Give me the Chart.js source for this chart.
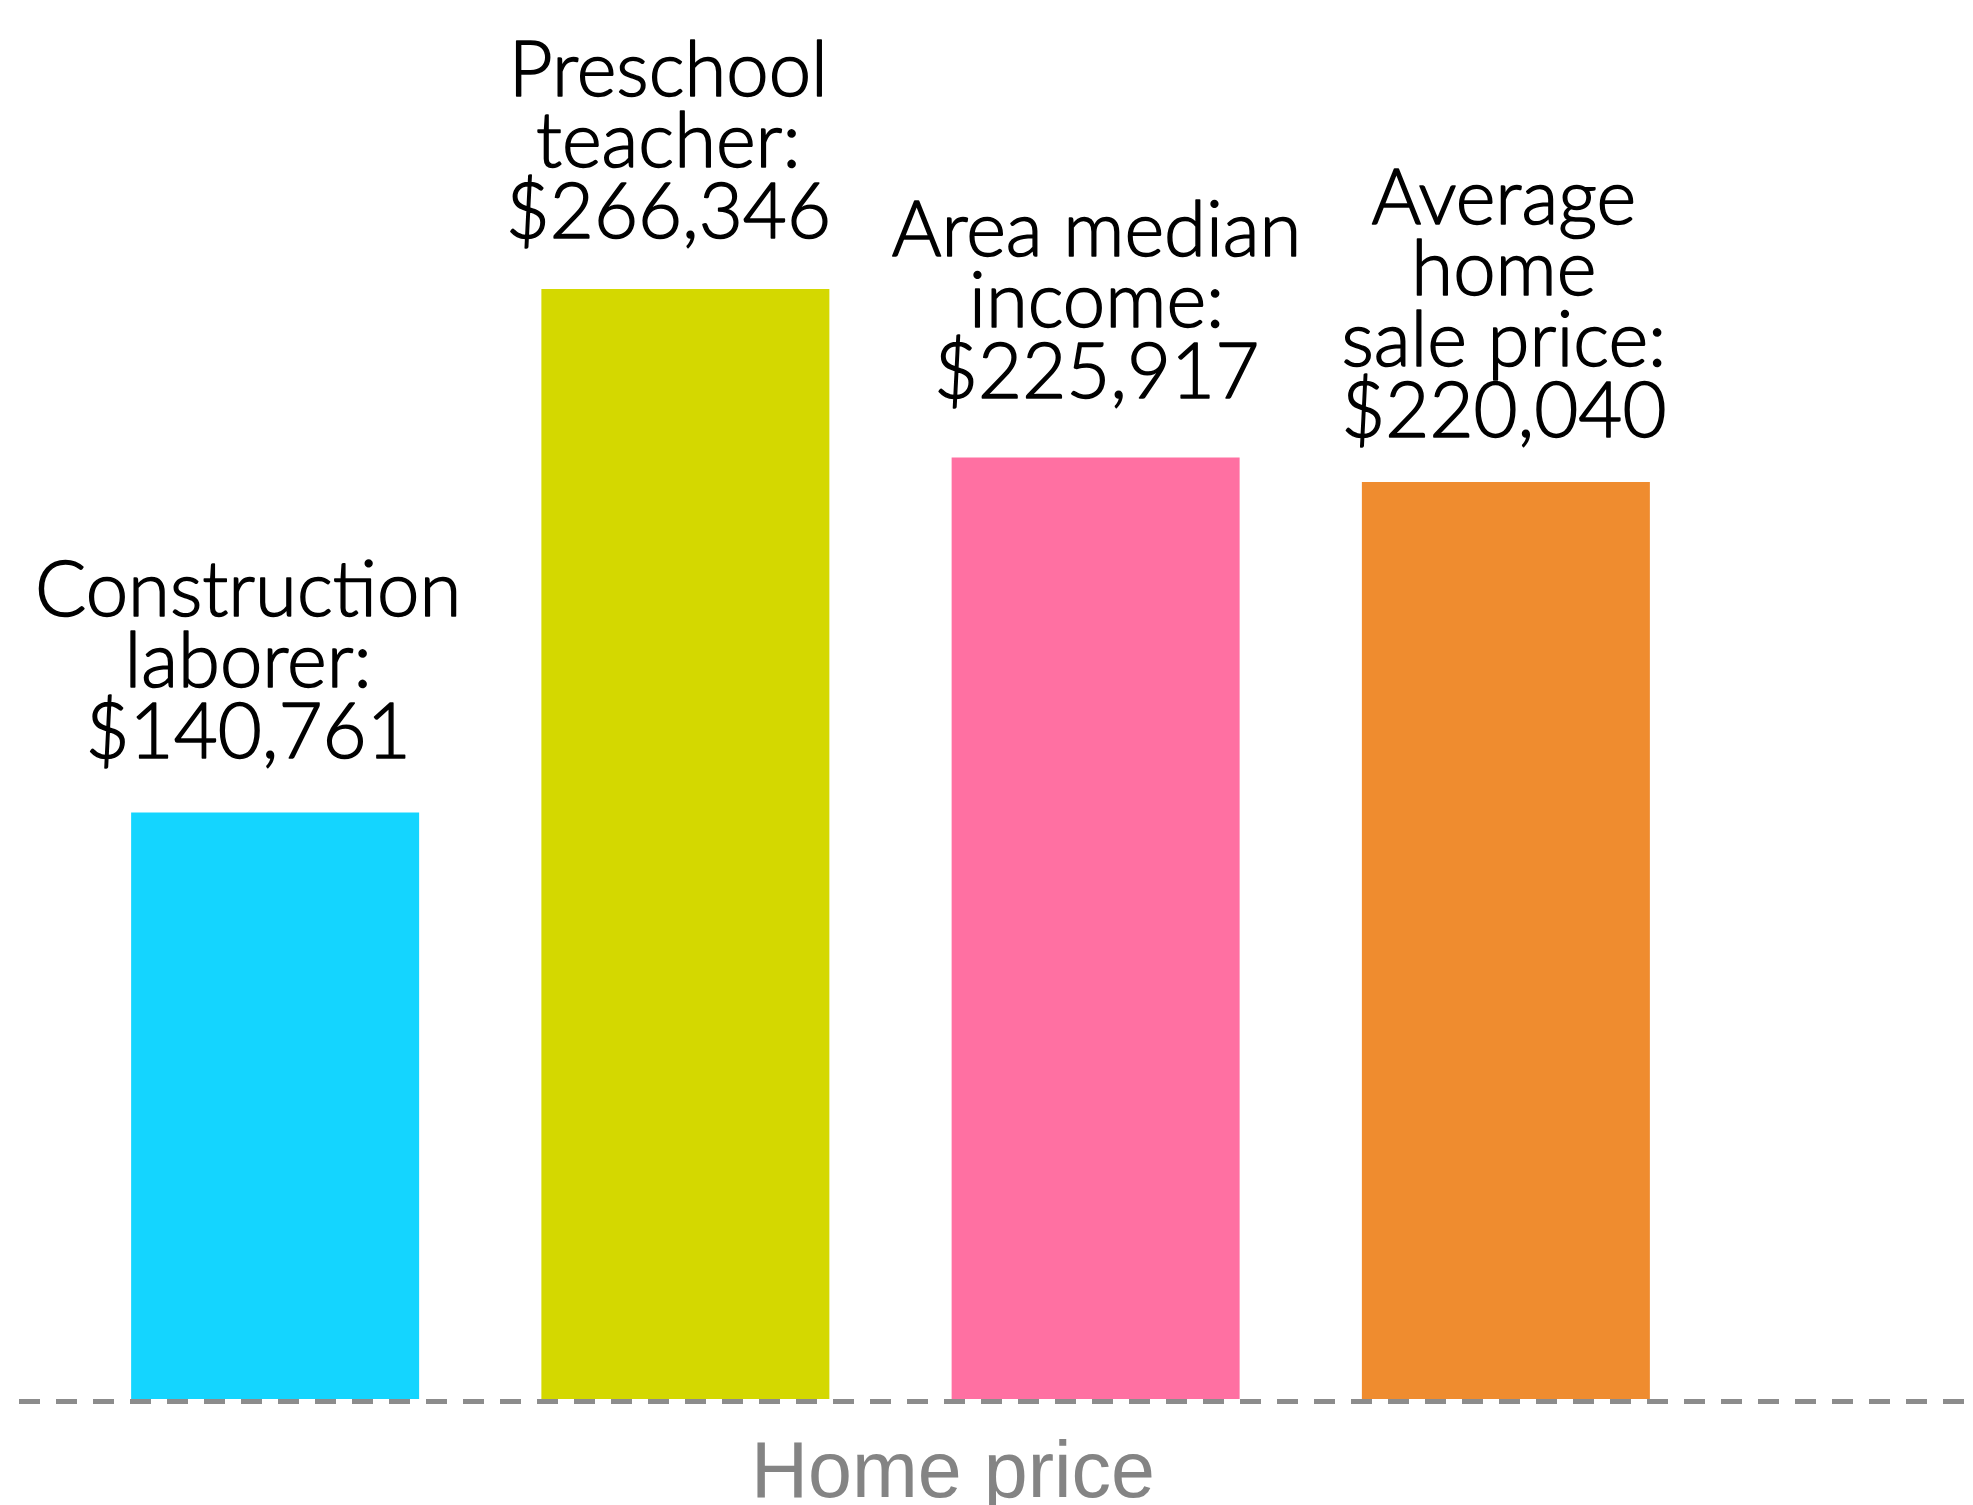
<!DOCTYPE html>
<html>
<head>
<meta charset="utf-8">
<script src="https://cdn.jsdelivr.net/npm/chart.js@4.4.1/dist/chart.umd.min.js"></script>
<style>
    html, body { margin: 0; padding: 0; background: #ffffff; }
    #wrap { width: 1973px; height: 1505px; }
</style>
</head>
<body>
<div id="wrap"><canvas id="bar-chart" width="1973" height="1505"></canvas></div>
<script>
(function () {
    "use strict";

    // Data
    const categories = [
        "Construction laborer",
        "Preschool teacher",
        "Area median income",
        "Average home sale price",
    ];
    const labelLines = [
        ["Construction", "laborer:"],
        ["Preschool", "teacher:"],
        ["Area median", "income:"],
        ["Average", "home", "sale price:"],
    ];
    const homePrice = [140761, 266346, 225917, 220040];
    const axisTitle = "Home price";

    const barColors = ["#14d5ff", "#d4d800", "#ff70a2", "#ef8c2f"];

    // small hand tweaks so the labels sit where the original had them
    const labelShiftX = [-27, -17, 1, -2];
    const labelGap = [54, 51, 60, 45];

    const money = (v) => "$" + v.toLocaleString("en-US");

    const barLabels = {
        id: "barLabels",
        afterDatasetsDraw(chart) {
            const ctx = chart.ctx;
            const meta = chart.getDatasetMeta(0);
            ctx.save();
            ctx.fillStyle = "#000000";
            ctx.strokeStyle = "#000000";
            ctx.lineWidth = 1.5;
            ctx.lineJoin = "round";
            ctx.font = "300 76px Lato";
            ctx.textAlign = "center";
            ctx.textBaseline = "alphabetic";
            meta.data.forEach((bar, i) => {
                const lines = labelLines[i].concat([money(homePrice[i])]);
                const x = bar.x + labelShiftX[i];
                let y = bar.y - labelGap[i];
                for (let k = lines.length - 1; k >= 0; k--) {
                    ctx.fillText(lines[k], x, y);
                    ctx.strokeText(lines[k], x, y);
                    y -= 71;
                }
            });
            ctx.restore();
        },
    };

    const baseline = {
        id: "baseline",
        afterDraw(chart) {
            const ctx = chart.ctx;
            const y = chart.scales.y.getPixelForValue(0) + 2.5;
            ctx.save();
            ctx.strokeStyle = "#8c8c8c";
            ctx.lineWidth = 5;
            ctx.setLineDash([21, 16]);
            ctx.beginPath();
            ctx.moveTo(19, y);
            ctx.lineTo(chart.width, y);
            ctx.stroke();
            ctx.setLineDash([]);

            ctx.fillStyle = "#848484";
            ctx.font = "400 79px 'Liberation Sans', Arial";
            ctx.textAlign = "center";
            ctx.textBaseline = "alphabetic";
            ctx.fillText(axisTitle, 953, 1497);
            ctx.restore();
        },
    };

    new Chart(document.getElementById("bar-chart"), {
        type: "bar",
        data: {
            labels: categories,
            datasets: [
                {
                    label: axisTitle,
                    data: homePrice,
                    backgroundColor: barColors,
                    borderWidth: 0,
                    categoryPercentage: 1,
                    barPercentage: 0.702,
                },
            ],
        },
        options: {
            responsive: false,
            animation: false,
            devicePixelRatio: 1,
            layout: {
                padding: { left: 70, right: 262, top: 0, bottom: 106 },
            },
            plugins: {
                legend: { display: false },
                tooltip: { enabled: false },
            },
            scales: {
                x: {
                    display: false,
                    offset: true,
                    grid: { display: false },
                },
                y: {
                    display: false,
                    min: 0,
                    max: 335700,
                    grid: { display: false },
                },
            },
        },
        plugins: [barLabels, baseline],
    });
})();
</script>
</body>
</html>
